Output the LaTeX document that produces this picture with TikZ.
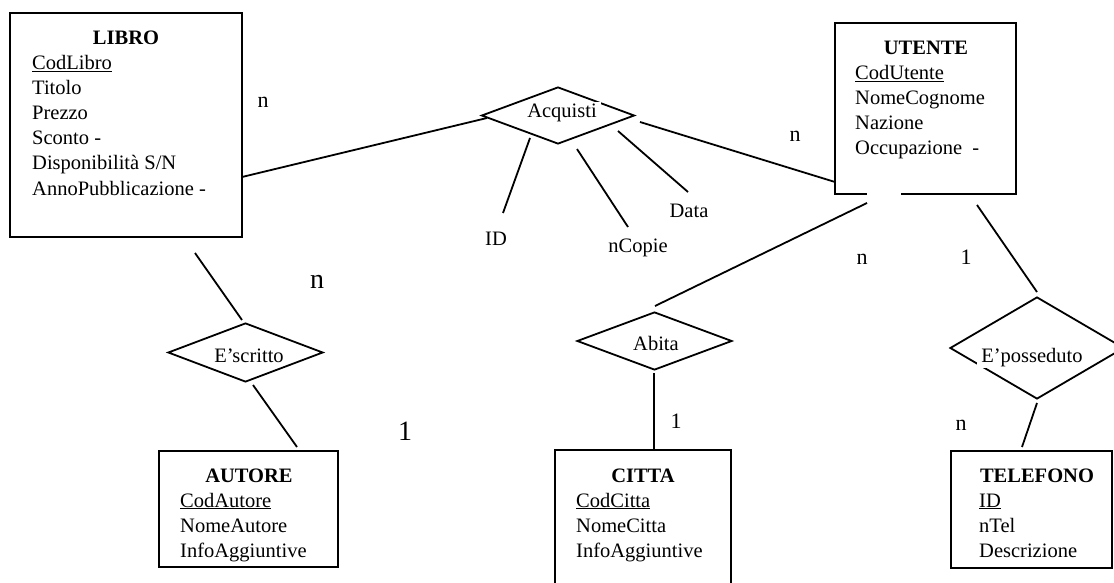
\documentclass[tikz,border=0pt]{standalone}
\usepackage{fontspec}
\setmainfont{Liberation Serif}
\usetikzlibrary{shapes.geometric}
\tikzset{
  entbox/.style={draw, line width=2.2pt, inner sep=0pt},
  ttl/.style={anchor=base, inner sep=0pt, font=\fontsize{20.5}{25}\selectfont\bfseries},
  attr/.style={anchor=base west, inner sep=0pt, font=\fontsize{20.5}{25}\selectfont},
  rel/.style={shape=diamond, draw, line width=1.8pt, inner sep=0pt},
  reltxt/.style={anchor=base, fill=white, inner xsep=4pt, inner ysep=2pt, font=\fontsize{20.5}{25}\selectfont},
  atxt/.style={anchor=base, inner sep=0pt, font=\fontsize{20.5}{25}\selectfont},
  conn/.style={line width=1.8pt},
  card/.style={anchor=base, inner sep=0pt, font=\fontsize{22}{26}\selectfont},
  bigcard/.style={anchor=base, inner sep=0pt, font=\fontsize{28}{32}\selectfont}
}
\newcommand\attrlist[4]{%
  \foreach \t [count=\i from 0] in {#4} {\node[attr] (#1\i) at (#2,#3+25*\i) {\t};}}
\begin{document}
\begin{tikzpicture}[x=1pt,y=-1pt]
\useasboundingbox[fill=white] (0,0) rectangle (1114,583);

% ---------- entities ----------
\node[entbox,minimum width=232,minimum height=224] (libro) at (126,125) {};
\node[ttl] (libro-t) at (126,45) {LIBRO};
\attrlist{libro-a}{32}{70}{\underline{CodLibro},Titolo,Prezzo,Sconto -,Disponibilità S/N,AnnoPubblicazione -}

\node[entbox,minimum width=181,minimum height=171] (utente) at (925.5,108.5) {};
\draw[white, line width=3pt] (867,194) -- (901,194);
\node[ttl] (utente-t) at (926,55) {UTENTE};
\attrlist{utente-a}{855}{80}{\underline{CodUtente},NomeCognome,Nazione,Occupazione~~-}

\node[entbox,minimum width=179,minimum height=116] (autore) at (248.5,509) {};
\node[ttl] (autore-t) at (249,482) {AUTORE};
\attrlist{autore-a}{180}{507}{\underline{CodAutore},NomeAutore,InfoAggiuntive}

\node[entbox,minimum width=176,minimum height=150] (citta) at (643,525) {};
\node[ttl] (citta-t) at (643,482) {CITTA};
\attrlist{citta-a}{576}{507}{\underline{CodCitta},NomeCitta,InfoAggiuntive}

\node[entbox,minimum width=161,minimum height=117] (telefono) at (1031.5,509.5) {};
\node[ttl] (telefono-t) at (1037,482) {TELEFONO};
\attrlist{telefono-a}{979}{507}{\underline{ID},nTel,Descrizione}

% ---------- relationships ----------
\node[rel,minimum width=153,minimum height=57] (acq) at (558,115.5) {};
\node[rel,minimum width=155,minimum height=59] (scr) at (245.5,352.5) {};
\node[rel,minimum width=155,minimum height=58] (abi) at (654.5,341) {};
\node[rel,minimum width=174,minimum height=102] (pos) at (1037,348) {};

% ---------- connector end points ----------
\coordinate (l1a) at (242,177);  \coordinate (l1b) at (487,118);
\coordinate (l2a) at (640,122);  \coordinate (l2b) at (835,182);
\coordinate (l3a) at (530,138);  \coordinate (l3b) at (503,213);
\coordinate (l4a) at (577,149);  \coordinate (l4b) at (628,227);
\coordinate (l5a) at (618,131);  \coordinate (l5b) at (688,192);
\coordinate (l6a) at (195,253);  \coordinate (l6b) at (242,320);
\coordinate (l7a) at (253,385);  \coordinate (l7b) at (297,447);
\coordinate (l8a) at (867,203);  \coordinate (l8b) at (655,306);
\coordinate (l9a) at (654,373);  \coordinate (l9b) at (654,449);
\coordinate (l10a) at (977,205); \coordinate (l10b) at (1037,292);
\coordinate (l11a) at (1037,403); \coordinate (l11b) at (1022,447);

\draw[conn] (l1a) -- (l1b);
\draw[conn] (l2a) -- (l2b);
\draw[conn] (l3a) -- (l3b);
\draw[conn] (l4a) -- (l4b);
\draw[conn] (l5a) -- (l5b);
\draw[conn] (l6a) -- (l6b);
\draw[conn] (l7a) -- (l7b);
\draw[conn] (l8a) -- (l8b);
\draw[conn] (l9a) -- (l9b);
\draw[conn] (l10a) -- (l10b);
\draw[conn] (l11a) -- (l11b);

% ---------- relationship labels ----------
\node[reltxt] (acq-t) at (562,118) {Acquisti};
\node[reltxt] (scr-t) at (249,362) {E’scritto};
\node[reltxt] (abi-t) at (656,350) {Abita};
\node[reltxt] (pos-t) at (1032,362) {E’posseduto};

% ---------- attribute labels ----------
\node[atxt] (id) at (496,245) {ID};
\node[atxt] (ncopie) at (638,252) {nCopie};
\node[atxt] (data) at (689,217) {Data};

% ---------- cardinalities ----------
\node[card] (c1) at (263,108) {n};
\node[card] (c2) at (795,142) {n};
\node[bigcard] (c3) at (317,288) {n};
\node[bigcard] (c4) at (405,440) {1};
\node[card] (c5) at (862,264) {n};
\node[card] (c6) at (966,264) {1};
\node[card] (c7) at (676,428) {1};
\node[card] (c8) at (961,430) {n};
\end{tikzpicture}
\end{document}
